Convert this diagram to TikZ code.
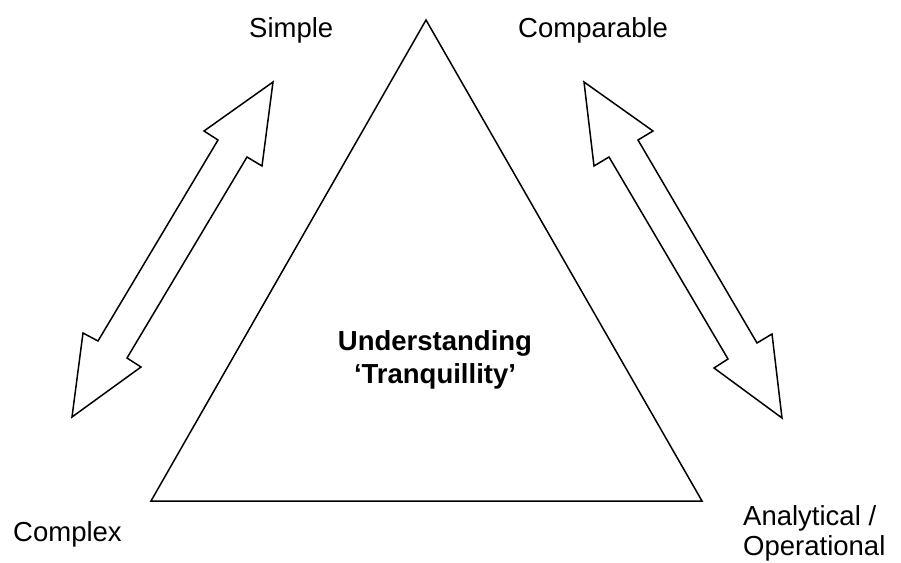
\documentclass[tikz,border=0pt]{standalone}
\usepackage{fontspec}
\setmainfont{Liberation Sans}
\usetikzlibrary{calc}

\begin{document}
\begin{tikzpicture}[x=1pt,y=-1pt,line join=miter,
  outline/.style={draw=black,line width=1.5pt,fill=white},
  label/.style={font=\fontsize{27.5}{30}\selectfont,inner sep=0pt,anchor=base west}]
  \useasboundingbox (0,0) rectangle (901,562);
  % triangle
  \draw[outline] (426,20) coordinate (apex) -- (702,501) coordinate (br) -- (151,501) coordinate (bl) -- cycle;
  % left double arrow (Simple <-> Complex)
  \draw[outline] (273,82) -- (262,166) -- (247,157) -- (127,358) -- (141,367) -- (72,417)
    -- (83,333) -- (98,341) -- (218,140) -- (204,131) -- cycle;
  % right double arrow (Comparable <-> Analytical)
  \draw[outline] (584,82) -- (653,131) -- (638,140) -- (757,343) -- (772,334) -- (782,418)
    -- (714,368) -- (728,359) -- (609,157) -- (594,166) -- cycle;
  % labels
  \node[label] (simple) at (249,37) {Simple};
  \node[label] (comparable) at (518,37) {Comparable};
  \node[label] (complex) at (13,541) {Complex};
  \node[label,align=left] (analytical) at (743,555) {Analytical /\\Operational};
  \node[label,anchor=base,font=\fontsize{27.5}{33}\selectfont\bfseries,align=center] (centre) at (435,383)
    {Understanding\\‘Tranquillity’};
\end{tikzpicture}
\end{document}
